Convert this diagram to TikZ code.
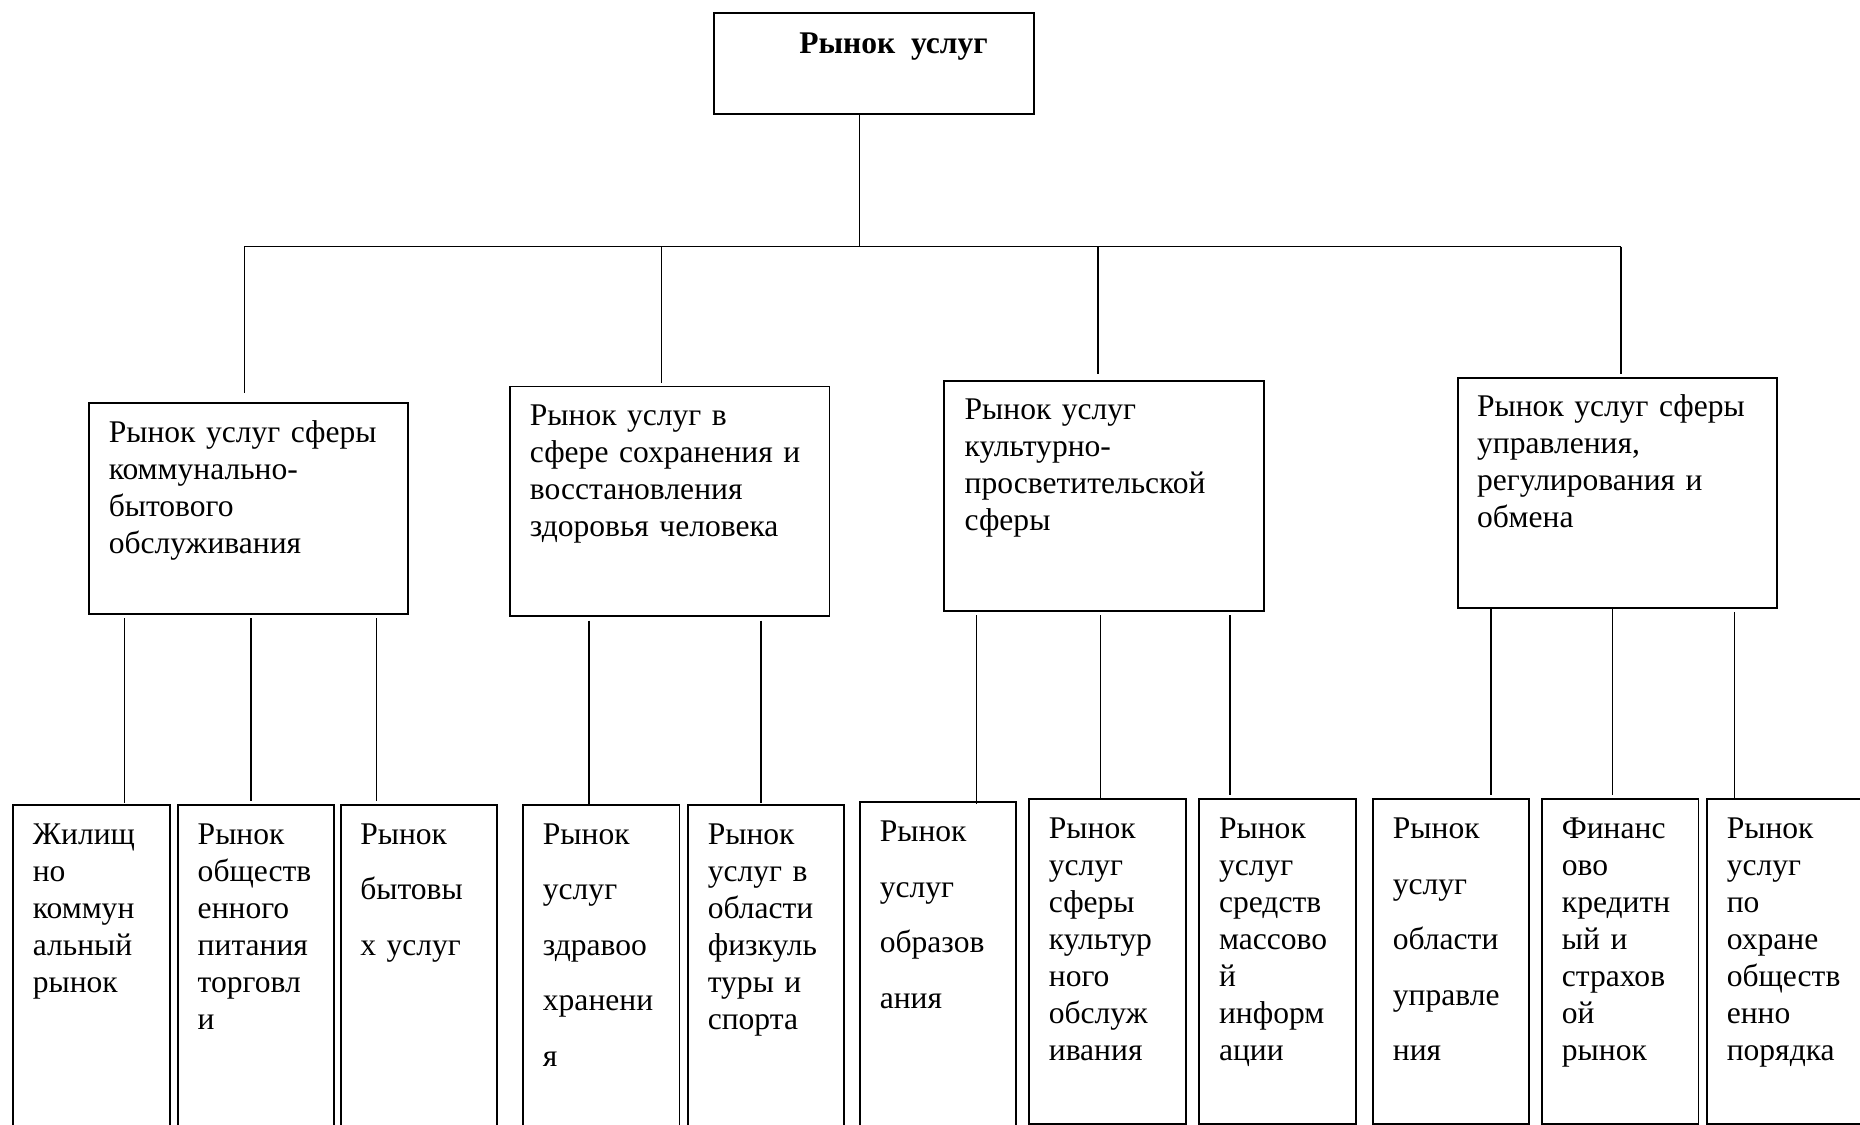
\documentclass[tikz,border=0pt]{standalone}
\usepackage{fontspec}
\setmainfont{Liberation Serif}
\usetikzlibrary{calc}
\begin{document}
\begin{tikzpicture}[x=1pt,y=-1pt,
  box/.style={draw, line width=1.6pt, rectangle, inner sep=0pt, anchor=north west},
  txt/.style={anchor=base west, inner sep=0pt, align=left, text width=260pt,
              font=\fontsize{26.6}{31.2}\selectfont},
  txtw/.style={txt, font=\fontsize{26.6}{46.8}\selectfont},
  conn/.style={line width=1.1pt}]
\useasboundingbox (0,0) rectangle (1568,948);
\clip (0,0) rectangle (1568,948);
\fill[white] (0,0) rectangle (1568,948);

% top box
\node[box, minimum width=269.3pt, minimum height=85.7pt] (top) at (601.3,9.8) {};
\node[anchor=base west, inner sep=0pt, font=\fontsize{26.6}{31.2}\selectfont\bfseries] (toptxt) at (673.6,45) {Рынок\ \ услуг};

% level 1 boxes
\node[box, minimum width=269.5pt, minimum height=177.7pt] (b1) at (74,339) {};
\node[box, minimum width=269.5pt, minimum height=193.7pt] (b2) at (429,325) {};
\node[box, minimum width=270pt, minimum height=193.5pt] (b3) at (795,320.5) {};
\node[box, minimum width=269pt, minimum height=194pt] (b4) at (1228,317.7) {};

\node[txt] (b1t) at (91.5,373) {Рынок услуг сферы\\коммунально-\\бытового\\обслуживания};
\node[txt] (b2t) at (446.5,359) {Рынок услуг в\\сфере сохранения и\\восстановления\\здоровья человека};
\node[txt] (b3t) at (813,354) {Рынок услуг\\культурно-\\просветительской\\сферы};
\node[txt] (b4t) at (1245,351) {Рынок услуг сферы\\управления,\\регулирования и\\обмена};

% level 2 boxes
\node[box, minimum width=132.5pt, minimum height=300pt] (a) at (10,677.5) {};
\node[box, minimum width=132pt, minimum height=300pt] (b) at (149,677.5) {};
\node[box, minimum width=132pt, minimum height=300pt] (c) at (286.5,677.5) {};
\node[box, minimum width=132pt, minimum height=300pt] (d) at (440,677.5) {};
\node[box, minimum width=132pt, minimum height=300pt] (e) at (579,677.5) {};
\node[box, minimum width=131.5pt, minimum height=300pt] (f) at (724,675.5) {};
\node[box, minimum width=132pt, minimum height=273.5pt] (g) at (867,673) {};
\node[box, minimum width=132pt, minimum height=273.5pt] (h) at (1010,673) {};
\node[box, minimum width=131.5pt, minimum height=273.5pt] (i) at (1156.5,673) {};
\node[box, minimum width=132pt, minimum height=273.5pt] (j) at (1299,673) {};
\node[box, minimum width=140pt, minimum height=273.5pt] (k) at (1438.5,673) {};

\node[txt] (at) at (27.5,711.5) {Жилищ\\но\\коммун\\альный\\рынок};
\node[txt] (bt) at (166.5,711.5) {Рынок\\обществ\\енного\\питания\\торговл\\и};
\node[txtw] (ct) at (303.5,711.5) {Рынок\\бытовы\\х услуг};
\node[txtw] (dt) at (457.5,711.5) {Рынок\\услуг\\здравоо\\хранени\\я};
\node[txt] (et) at (596.5,711.5) {Рынок\\услуг в\\области\\физкуль\\туры и\\спорта};
\node[txtw] (ft) at (741.5,709.5) {Рынок\\услуг\\образов\\ания};
\node[txt] (gt) at (884,707) {Рынок\\услуг\\сферы\\культур\\ного\\обслуж\\ивания};
\node[txt] (ht) at (1027.5,707) {Рынок\\услуг\\средств\\массово\\й\\информ\\ации};
\node[txtw] (it) at (1174,707) {Рынок\\услуг\\области\\управле\\ния};
\node[txt] (jt) at (1316.5,707) {Финанс\\ово\\кредитн\\ый и\\страхов\\ой\\рынок};
\node[txt] (kt) at (1455.5,707) {Рынок\\услуг\\по\\охране\\обществ\\енно\\порядка};

% upper connectors
\coordinate (j0) at (724.5,208);
\coordinate (jL) at (206,208);
\coordinate (j2) at (557.5,208);
\coordinate (j3) at (925.5,208);
\coordinate (jR) at (1366.5,208);
\draw[conn] (j0 |- top.south) -- (j0);
\draw[conn] (jL) -- (jR);
\draw[conn] (jL) -- ($(b1.north west)+(132,-7.3)$);
\draw[conn] (j2) -- ($(b2.north west)+(128.5,-2.3)$);
\draw[conn] (j3) -- ($(b3.north west)+(130.5,-5.5)$);
\draw[conn] (jR) -- ($(b4.north west)+(138.5,-2.7)$);

% lower connectors
\draw[conn] ($(b1.south west)+(31,2.8)$) -- ($(a.north west)+(95,-0.5)$);
\draw[conn] ($(b1.south west)+(137.5,2.8)$) -- ($(b.north west)+(62.5,-2)$);
\draw[conn] ($(b1.south west)+(243.5,2.8)$) -- ($(c.north west)+(31,-2)$);
\draw[conn] ($(b2.south west)+(67.5,2.8)$) -- ($(d.north west)+(56.5,2)$);
\draw[conn] ($(b2.south west)+(212.5,2.8)$) -- ($(e.north west)+(62.5,-0.5)$);
\draw[conn] ($(b3.south west)+(28,3)$) -- ($(f.north west)+(99,2)$);
\draw[conn] ($(b3.south west)+(132.5,3)$) -- ($(g.north west)+(60.5,-0.4)$);
\draw[conn] ($(b3.south west)+(242,3)$) -- ($(h.north west)+(27,-2.4)$);
\draw[conn] ($(b4.south west)+(29,0.3)$) -- ($(i.north west)+(100.5,-2.4)$);
\draw[conn] ($(b4.south west)+(131.5,0.3)$) -- ($(j.north west)+(60.5,-2.4)$);
\draw[conn] ($(b4.south west)+(234,2.7)$) -- ($(k.north west)+(23.5,-0.4)$);
\end{tikzpicture}
\end{document}
